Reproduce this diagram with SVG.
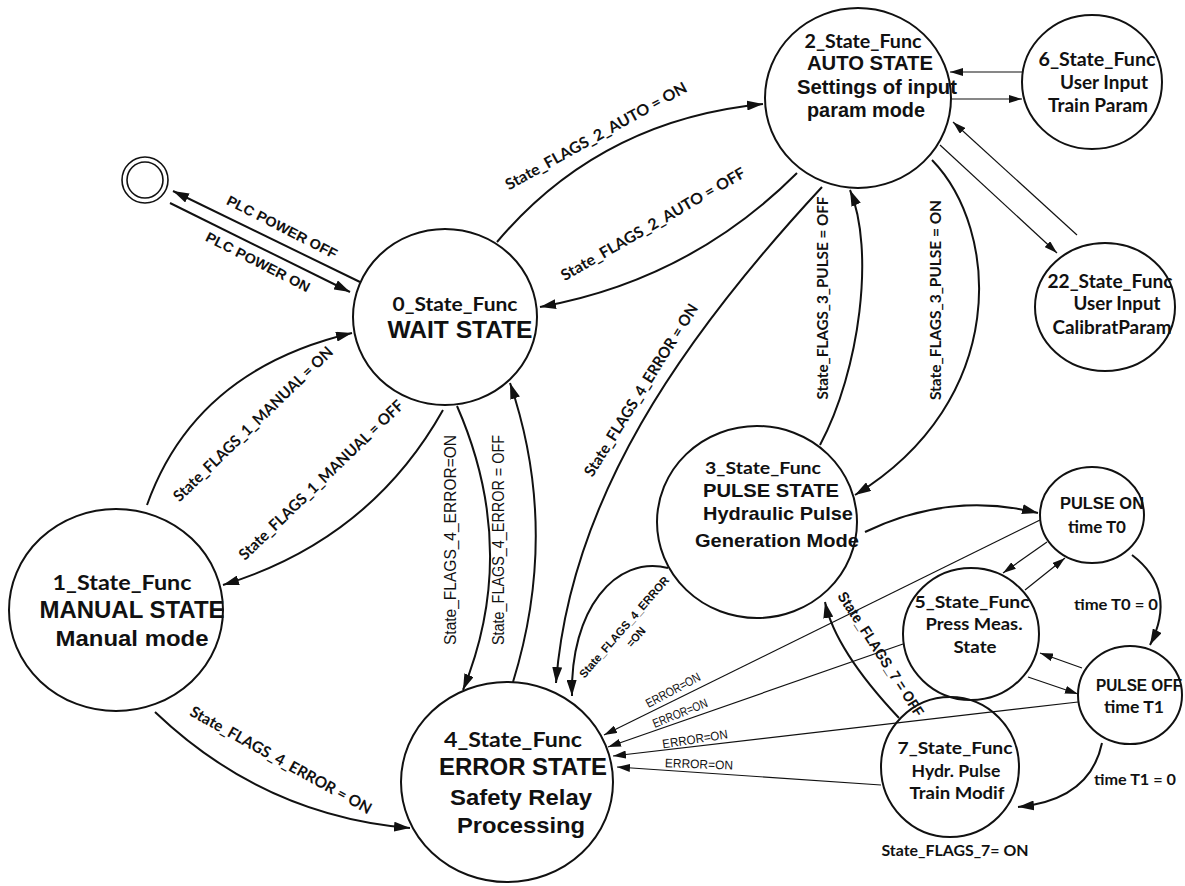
<svg xmlns="http://www.w3.org/2000/svg" width="1185" height="886" viewBox="0 0 1185 886">
<defs>
<marker id="ah" viewBox="0 0 16 10" refX="16" refY="5" markerWidth="16" markerHeight="10" markerUnits="userSpaceOnUse" orient="auto"><path d="M0,0 L16,5 L0,10 z" fill="#111"/></marker>
<marker id="as" viewBox="0 0 13 8" refX="13" refY="4" markerWidth="13" markerHeight="8" markerUnits="userSpaceOnUse" orient="auto"><path d="M0,0 L13,4 L0,8 z" fill="#111"/></marker>
<style>
.node{fill:none;stroke:#111;stroke-width:2}
.c{fill:none;stroke:#111;stroke-width:2;marker-end:url(#ah)}
.t{fill:none;stroke:#111;stroke-width:1.2;marker-end:url(#as)}
.cal{font-family:Lato,"Open Sans","DejaVu Sans",sans-serif;font-weight:bold;fill:#111;text-anchor:middle}
.ar{font-family:"Liberation Sans",Arial,sans-serif;font-weight:bold;fill:#111;text-anchor:middle}
.arn{font-family:"Liberation Sans",Arial,sans-serif;font-weight:normal;fill:#111;text-anchor:middle}
</style>
</defs>
<rect width="1185" height="886" fill="#fff"/>
<g id="connectors">
<path class="c" d="M360,282 L173,191"/>
<path class="c" d="M170,203 L350,292"/>
<path class="c" d="M497,242 Q600,120 763,104"/>
<path class="c" d="M797,173 Q690,280 540,307"/>
<path class="c" d="M822,187 C680,340 570,500 556,683"/>
<path class="c" d="M147,505 Q195,370 352,333"/>
<path class="c" d="M443,410 Q370,540 223,585"/>
<path class="c" d="M457,406 Q520,550 463,690"/>
<path class="c" d="M513,682 Q560,530 510,383"/>
<path class="c" d="M155,712 Q264,816 410,828"/>
<path class="c" d="M820,445 C860,370 875,250 850,190"/>
<path class="c" d="M932,160 C1000,230 1010,400 855,495"/>
<path class="c" d="M668,568 C615,555 570,610 572,696"/>
<path class="c" d="M865,532 Q950,491 1038,513"/>
<path class="t" d="M1022,72 L950,72"/>
<path class="t" d="M952,99 L1022,99"/>
<path class="t" d="M940,145 L1057,253"/>
<path class="t" d="M1077,235 L953,122"/>
<path class="t" d="M1047,542 L1003,573"/>
<path class="t" d="M1025,590 L1065,558"/>
<path class="c" d="M1132,555 Q1178,590 1150,645"/>
<path class="t" d="M1082,668 L1040,653"/>
<path class="t" d="M1028,677 L1078,694"/>
<path class="c" d="M1102,743 Q1090,800 1018,807"/>
<path class="c" d="M899,718 Q835,650 825,602"/>
<path class="t" d="M1040,520 L604,735"/>
<path class="t" d="M903,644 L608,747"/>
<path class="t" d="M1078,702 L613,756"/>
<path class="t" d="M881,785 L617,767"/>
</g>
<g id="labels">
<text class="ar" font-size="14" textLength="122" lengthAdjust="spacingAndGlyphs" dy="0.35em" transform="translate(282,227) rotate(27)">PLC POWER OFF</text>
<text class="ar" font-size="14" textLength="115" lengthAdjust="spacingAndGlyphs" dy="0.35em" transform="translate(258,262) rotate(27)">PLC POWER ON</text>
<text class="cal" font-size="15.5" textLength="205" lengthAdjust="spacingAndGlyphs" dy="0.35em" transform="translate(596,136) rotate(-29)">State_FLAGS_2_AUTO = ON</text>
<text class="cal" font-size="15.5" textLength="210" lengthAdjust="spacingAndGlyphs" dy="0.35em" transform="translate(653,224) rotate(-30)">State_FLAGS_2_AUTO = OFF</text>
<text class="cal" font-size="15.5" textLength="215" lengthAdjust="spacingAndGlyphs" dy="0.35em" transform="translate(253,424) rotate(-44)">State_FLAGS_1_MANUAL = ON</text>
<text class="cal" font-size="15.5" textLength="222" lengthAdjust="spacingAndGlyphs" dy="0.35em" transform="translate(321,480) rotate(-44)">State_FLAGS_1_MANUAL = OFF</text>
<text class="arn" font-size="16" textLength="210" lengthAdjust="spacingAndGlyphs" dy="0.35em" transform="translate(450,540) rotate(-90)">State_FLAGS_4_ERROR=ON</text>
<text class="arn" font-size="16" textLength="210" lengthAdjust="spacingAndGlyphs" dy="0.35em" transform="translate(498,540) rotate(-90)">State_FLAGS_4_ERROR = OFF</text>
<text class="cal" font-size="15.5" textLength="200" lengthAdjust="spacingAndGlyphs" dy="0.35em" transform="translate(641,390) rotate(-58)">State_FLAGS_4_ERROR = ON</text>
<text class="cal" font-size="16" textLength="203" lengthAdjust="spacingAndGlyphs" dy="0.35em" transform="translate(822,298) rotate(-90)">State_FLAGS_3_PULSE = OFF</text>
<text class="cal" font-size="16" textLength="200" lengthAdjust="spacingAndGlyphs" dy="0.35em" transform="translate(935,300) rotate(-90)">State_FLAGS_3_PULSE = ON</text>
<text class="cal" font-size="15.5" textLength="205" lengthAdjust="spacingAndGlyphs" dy="0.35em" transform="translate(281,760) rotate(29)">State_FLAGS_4_ERROR = ON</text>
<text class="ar" font-size="15" textLength="145" lengthAdjust="spacingAndGlyphs" dy="0.35em" transform="translate(881,654) rotate(57)">State_FLAGS_7 = OFF</text>
<text class="ar" font-size="11.5" textLength="130" lengthAdjust="spacingAndGlyphs" dy="0.35em" transform="translate(624,627) rotate(-49)">State_FLAGS_4_ERROR</text>
<text class="ar" font-size="11.5" textLength="22" lengthAdjust="spacingAndGlyphs" dy="0.35em" transform="translate(636,637) rotate(-49)">=ON</text>
<text class="arn" font-size="12.5" textLength="60" lengthAdjust="spacingAndGlyphs" dy="0.35em" transform="translate(673,690) rotate(-28)">ERROR=ON</text>
<text class="arn" font-size="12.5" textLength="58" lengthAdjust="spacingAndGlyphs" dy="0.35em" transform="translate(680,713) rotate(-22)">ERROR=ON</text>
<text class="arn" font-size="12.5" textLength="66" lengthAdjust="spacingAndGlyphs" dy="0.35em" transform="translate(695,739) rotate(-9)">ERROR=ON</text>
<text class="arn" font-size="12.5" textLength="68" lengthAdjust="spacingAndGlyphs" dy="0.35em" transform="translate(699,764) rotate(2)">ERROR=ON</text>
<text class="cal" font-size="15" x="1116" y="610" textLength="84" lengthAdjust="spacingAndGlyphs">time T0 = 0</text>
<text class="cal" font-size="15" x="1135" y="785" textLength="82" lengthAdjust="spacingAndGlyphs">time T1 = 0</text>
<text class="cal" font-size="16" x="955" y="856" textLength="147" lengthAdjust="spacingAndGlyphs">State_FLAGS_7= ON</text>
</g>
<g id="final">
<circle cx="145" cy="180" r="23" fill="none" stroke="#111" stroke-width="1.6"/>
<circle cx="145" cy="180" r="18" fill="none" stroke="#111" stroke-width="1.6"/>
</g>
<g id="node0">
<ellipse class="node" cx="445" cy="317" rx="92" ry="88"/>
<text class="cal" font-size="19" x="455" y="311" textLength="125" lengthAdjust="spacingAndGlyphs">0_State_Func</text>
<text class="ar" font-size="23" x="460" y="338" textLength="145" lengthAdjust="spacingAndGlyphs">WAIT STATE</text>
</g>
<g id="node1">
<ellipse class="node" cx="116" cy="610" rx="107" ry="101"/>
<text class="cal" font-size="20" x="122" y="590" textLength="139" lengthAdjust="spacingAndGlyphs">1_State_Func</text>
<text class="ar" font-size="23" x="132" y="618" textLength="185" lengthAdjust="spacingAndGlyphs">MANUAL STATE</text>
<text class="ar" font-size="22" x="132" y="646" textLength="153" lengthAdjust="spacingAndGlyphs">Manual mode</text>
</g>
<g id="node2">
<ellipse class="node" cx="858" cy="98" rx="93" ry="90"/>
<text class="cal" font-size="18" x="863" y="48" textLength="117" lengthAdjust="spacingAndGlyphs">2_State_Func</text>
<text class="ar" font-size="20" x="870" y="70" textLength="126" lengthAdjust="spacingAndGlyphs">AUTO STATE</text>
<text class="ar" font-size="20" x="877" y="94" textLength="160" lengthAdjust="spacingAndGlyphs">Settings of input</text>
<text class="ar" font-size="20" x="866" y="117" textLength="118" lengthAdjust="spacingAndGlyphs">param mode</text>
</g>
<g id="node6">
<ellipse class="node" cx="1092" cy="82" rx="70" ry="67"/>
<text class="cal" font-size="18" x="1097" y="66" textLength="117" lengthAdjust="spacingAndGlyphs">6_State_Func</text>
<text class="cal" font-size="18" x="1104" y="89" textLength="88" lengthAdjust="spacingAndGlyphs">User Input</text>
<text class="cal" font-size="18" x="1098" y="112" textLength="100" lengthAdjust="spacingAndGlyphs">Train Param</text>
</g>
<g id="node22">
<ellipse class="node" cx="1105" cy="307" rx="70" ry="64"/>
<text class="cal" font-size="18" x="1110" y="288" textLength="125" lengthAdjust="spacingAndGlyphs">22_State_Func</text>
<text class="cal" font-size="18" x="1117" y="310" textLength="87" lengthAdjust="spacingAndGlyphs">User Input</text>
<text class="cal" font-size="18" x="1112" y="334" textLength="119" lengthAdjust="spacingAndGlyphs">CalibratParam</text>
</g>
<g id="node3">
<ellipse class="node" cx="757" cy="522" rx="100" ry="96"/>
<text class="cal" font-size="17" x="763" y="474" textLength="116" lengthAdjust="spacingAndGlyphs">3_State_Func</text>
<text class="ar" font-size="19" x="771" y="497" textLength="136" lengthAdjust="spacingAndGlyphs">PULSE STATE</text>
<text class="ar" font-size="19" x="778" y="520" textLength="150" lengthAdjust="spacingAndGlyphs">Hydraulic Pulse</text>
<text class="ar" font-size="19" x="777" y="547" textLength="164" lengthAdjust="spacingAndGlyphs">Generation Mode</text>
</g>
<g id="node4">
<ellipse class="node" cx="507" cy="782" rx="106" ry="100"/>
<text class="cal" font-size="20" x="513" y="747" textLength="138" lengthAdjust="spacingAndGlyphs">4_State_Func</text>
<text class="ar" font-size="23" x="523" y="775" textLength="168" lengthAdjust="spacingAndGlyphs">ERROR STATE</text>
<text class="ar" font-size="22" x="521" y="805" textLength="142" lengthAdjust="spacingAndGlyphs">Safety Relay</text>
<text class="ar" font-size="22" x="521" y="833" textLength="128" lengthAdjust="spacingAndGlyphs">Processing</text>
</g>
<g id="nodePulseOn">
<ellipse class="node" cx="1092" cy="515" rx="52" ry="48"/>
<text class="ar" font-size="16" x="1102" y="509" textLength="84" lengthAdjust="spacingAndGlyphs">PULSE ON</text>
<text class="cal" font-size="17" x="1097" y="533" textLength="58" lengthAdjust="spacingAndGlyphs">time T0</text>
</g>
<g id="node5">
<ellipse class="node" cx="971" cy="634" rx="68" ry="66"/>
<text class="cal" font-size="17" x="972" y="608" textLength="115" lengthAdjust="spacingAndGlyphs">5_State_Func</text>
<text class="cal" font-size="17" x="974" y="630" textLength="97" lengthAdjust="spacingAndGlyphs">Press Meas.</text>
<text class="cal" font-size="17" x="975" y="653" textLength="43" lengthAdjust="spacingAndGlyphs">State</text>
</g>
<g id="nodePulseOff">
<ellipse class="node" cx="1130" cy="695" rx="52" ry="49"/>
<text class="ar" font-size="16" x="1139" y="691" textLength="86" lengthAdjust="spacingAndGlyphs">PULSE OFF</text>
<text class="cal" font-size="17" x="1134" y="713" textLength="60" lengthAdjust="spacingAndGlyphs">time T1</text>
</g>
<g id="node7">
<ellipse class="node" cx="950" cy="767" rx="69" ry="70"/>
<text class="cal" font-size="17" x="955" y="754" textLength="115" lengthAdjust="spacingAndGlyphs">7_State_Func</text>
<text class="cal" font-size="17" x="956" y="777" textLength="89" lengthAdjust="spacingAndGlyphs">Hydr. Pulse</text>
<text class="cal" font-size="17" x="957" y="799" textLength="95" lengthAdjust="spacingAndGlyphs">Train Modif</text>
</g>
</svg>
